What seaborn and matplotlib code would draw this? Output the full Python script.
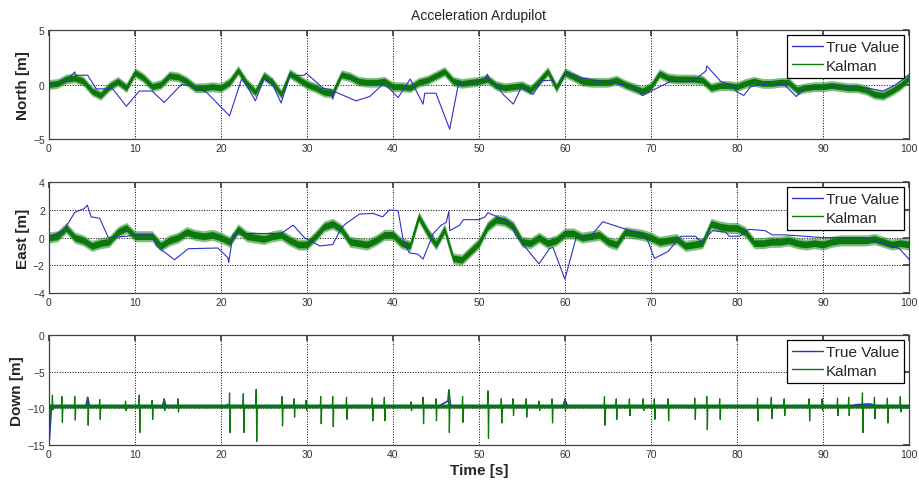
import numpy as np
import matplotlib
matplotlib.use("Agg")
import matplotlib.pyplot as plt
from matplotlib.lines import Line2D
import seaborn as sns

# ---------------- datos ----------------
# North: valor verdadero (puntos clave)
north_true_t = [0, 1, 2, 3.0, 3.1, 4.5, 5.5, 7.4, 9.0, 10.5, 12.0, 13.4, 15.4, 16.5, 18.3,
                21.0, 22.4, 23.0, 24.0, 25.0, 26.0, 27.0, 28.0, 29.7, 29.9, 31.9, 32.9, 33.0,
                33.2, 35.7, 37.3, 38.8, 39.5, 40.6, 42.0, 43.5, 43.7, 45.0, 46.6, 47.6, 49.0,
                50.5, 51.0, 51.2, 52.0, 52.8, 54.0, 54.9, 56.3, 57.3, 58.6, 59.0, 60.2, 62,
                65, 68, 69.0, 72.2, 74.9, 76.4, 76.5, 78.1, 79.5, 80.0, 80.8, 81.6, 84, 85.5,
                86.9, 88, 92, 95, 97, 98.5, 100]
north_true_v = [0, 0.1, 0.4, 1.15, 0.85, 0.85, -0.4, -0.4, -2.0, -0.6, -0.6, -1.65, 0.0, -0.1,
                -0.7, -2.87, 0.5, -0.1, -1.5, 0.5, 0.0, -1.7, 0.8, 0.85, 1.05, -0.35, -0.5,
                -1.35, -0.65, -1.5, -1.1, 0.0, -0.3, -1.2, 0.5, -1.8, -0.8, -0.8, -4.1, 0.0,
                0.2, 0.3, 0.95, 0.3, 0.0, -0.9, -1.8, -0.3, -0.9, 0.35, 0.4, -0.27, 1.15, 0.6,
                0.2, -0.2, -1.0, 0.25, 0.3, 1.25, 1.7, 0.3, -0.1, -0.7, -1.0, -0.2, 0.1, 0.0,
                -1.1, -0.3, -0.2, -0.3, -0.6, 0.0, 0.9]

# North: Kalman, un valor por segundo (0..100 s)
north_kal = [0, 0.1, 0.5, 0.6, 0.3, -0.6, -1.0, -0.2, 0.3, -0.3,
             1.1, 0.6, -0.2, 0.0, 0.8, 0.7, 0.3, -0.3, -0.3, -0.2,
             -0.3, 0.2, 1.3, 0.1, -0.7, 0.8, 0.2, -0.9, 1.0, 0.5,
             0.0, -0.3, -0.7, -0.8, 0.9, 0.7, 0.3, 0.2, 0.2, 0.3,
             -0.2, -0.2, -0.3, 0.2, 0.4, 0.8, 1.2, 0.3, 0.1, 0.2,
             0.3, 0.5, -0.1, -0.3, -0.2, -0.1, -0.5, 0.3, 1.2, -0.3,
             1.1, 0.7, 0.3, 0.2, 0.2, 0.2, 0.4, 0.0, -0.3, -0.6,
             -0.2, 1.0, 0.6, 0.5, 0.5, 0.5, 0.4, -0.3, -0.1, -0.1,
             -0.2, 0.1, 0.3, 0.1, 0.1, 0.2, 0.2, -0.5, -0.3, -0.2,
             -0.2, -0.1, -0.2, -0.3, -0.3, -0.5, -0.9, -1.0, -0.6, -0.1, 0.6]

# East: valor verdadero
east_true_t = [0, 1.8, 3.0, 4.1, 4.46, 4.9, 5.9, 6.9, 9, 10, 12.0, 12.5, 14.6, 16.2, 19.65,
               20.8, 20.9, 21.4, 22.5, 27.0, 28.4, 29.7, 31.5, 33.0, 34.0, 34.5, 36.1, 37.7,
               38.8, 39.6, 40.6, 41.2, 41.9, 42.9, 43.5, 44.7, 45.6, 46.2, 46.5, 46.6, 47.75,
               48.2, 50.0, 50.7, 51.05, 52.5, 53.5, 54.3, 56.98, 58.2, 58.6, 60.0, 61.3, 63.0,
               64.4, 67.1, 68.3, 69.5, 70.4, 71.99, 73.5, 75.2, 75.8, 77.2, 78.7, 79.1, 80.3,
               81.4, 83.3, 84.1, 85.7, 90, 95, 98.9, 100]
east_true_v = [0, 0.6, 1.83, 2.1, 2.35, 1.5, 1.4, 0.0, 0.1, 0.2, 0.2, -0.6, -1.6, -0.8, -0.75,
               -1.45, -1.8, 0.2, 0.3, 0.3, 0.9, 0.0, -0.6, -0.5, 0.7, 1.0, 1.7, 1.75, 1.5,
               2.0, 1.95, -0.2, -1.1, -1.2, -1.55, 0.3, 0.9, 1.1, 1.9, 0.5, 0.9, 1.3, 1.3,
               1.5, 1.8, 1.4, 1.2, 0.15, -1.9, -0.8, -0.7, -3.0, 0.0, 0.1, 1.15, 0.6, 0.4,
               0.0, -1.5, -1.0, 0.1, 0.1, -0.3, 0.5, 0.4, 0.1, 0.1, 0.6, 0.5, 0.2, 0.2, 0.0,
               0.0, -0.8, -1.55]

# East: Kalman, un valor por segundo
east_kal = [0, 0.1, 0.7, 0.0, -0.2, -0.6, -0.4, -0.3, 0.4, 0.7,
            0.1, 0.1, 0.1, -0.6, -0.2, 0.0, 0.4, 0.2, 0.1, 0.2,
            0.0, -0.3, 0.6, 0.1, 0.0, -0.1, 0.1, 0.2, -0.2, -0.5,
            -0.5, 0.1, 0.8, 1.0, 0.6, -0.3, -0.4, -0.5, -0.2, 0.2,
            0.2, -0.4, -0.6, 1.5, 0.4, -0.5, 0.6, -1.5, -1.6, -1.0,
            -0.4, 0.8, 1.3, 1.2, 0.8, -0.3, -0.4, 0.0, -0.4, -0.2,
            0.3, 0.3, 0.0, 0.1, 0.2, -0.3, -0.5, 0.4, 0.3, 0.2,
            0.0, -0.3, -0.2, -0.1, -0.6, -0.5, -0.4, 1.0, 0.8, 0.7,
            0.7, 0.4, -0.4, -0.4, -0.3, -0.3, -0.2, -0.4, -0.5, -0.4,
            -0.5, -0.3, -0.2, -0.2, -0.2, -0.2, -0.1, -0.3, -0.5, -0.4, -0.5]

# Down: valor verdadero (casi oculto bajo Kalman)
down_true_t = [0, 0.3, 4.3, 4.5, 4.7, 13.2, 13.4, 13.6, 20.5, 20.8, 21.1, 45.3, 46.4, 46.5,
               46.7, 59.8, 60.0, 60.3, 93.2, 94.0, 95.5, 96.2, 100]
down_true_v = [-15, -9.7, -9.7, -8.5, -9.7, -9.7, -8.8, -9.7, -9.7, -9.5, -9.7, -9.7, -9.0,
               -7.5, -9.7, -9.7, -8.8, -9.7, -9.7, -9.5, -9.4, -9.7, -9.7]

# Down: Kalman = base + picos
down_base = -9.8
down_start = -15
spike_t = [0.4, 1.5, 3.0, 4.5, 5.9, 8.9, 10.5, 12.0, 13.4, 15.0, 21.0, 22.6, 24.1, 27.1,
           28.5, 29.9, 31.6, 33.0, 34.6, 37.6, 39.0, 42.1, 43.5, 45.0, 46.5, 48.1, 51.05,
           52.6, 53.96, 55.5, 57.0, 58.5, 60.0, 64.6, 65.97, 67.5, 69.1, 70.4, 72.0, 75.1,
           76.5, 78.0, 82.4, 84.0, 85.5, 88.4, 89.9, 91.7, 93.0, 94.6, 96.0, 97.5, 99.0]
spike_hi = [-8.2, -8.4, -8.4, -8.5, -8.8, -9.0, -8.2, -8.9, -8.7, -8.7, -7.9, -8.0, -7.4, -8.4,
            -8.7, -8.9, -8.4, -8.4, -8.5, -8.6, -8.5, -9.1, -8.5, -8.7, -7.5, -8.4, -7.6,
            -8.7, -8.7, -8.7, -9.0, -8.7, -8.7, -8.4, -8.7, -8.7, -8.7, -8.7, -8.7, -8.6,
            -8.4, -8.7, -8.6, -8.5, -8.7, -8.7, -8.7, -8.6, -8.5, -7.9, -8.5, -8.6, -8.4]
spike_lo = [-10.2, -11.9, -11.6, -12.3, -11.5, -10.3, -13.3, -11.5, -10.3, -10.5, -13.3, -13.3,
            -14.5, -12.4, -11.2, -10.3, -12.1, -12.5, -11.5, -11.7, -11.7, -10.3, -12.1, -11.7,
            -13.3, -11.9, -14.1, -12.0, -11.0, -11.2, -10.3, -12.0, -10.3, -12.3, -11.5,
            -11.0, -10.3, -11.5, -11.7, -11.5, -12.9, -11.5, -11.7, -11.4, -11.0, -11.7,
            -10.3, -11.0, -11.0, -13.3, -11.4, -12.0, -10.5]

BLUE = "#3030c8"
GREEN = "#0a780a"
GREEN_LIGHT = "#2f922f"

sns.set_theme(style="white")
plt.rcParams['font.family'] = ['Liberation Sans', 'DejaVu Sans']

fig = plt.figure(figsize=(9.19, 4.89), dpi=100)
ax_n = fig.add_axes([0.0533, 0.7137, 0.9357, 0.2229])
ax_e = fig.add_axes([0.0533, 0.3988, 0.9357, 0.2264])
ax_d = fig.add_axes([0.0533, 0.0879, 0.9357, 0.2250])


def estilo(ax, ylim, yticks, ylabel):
    ax.set_xlim(0, 100)
    ax.set_ylim(*ylim)
    ax.set_xticks(range(0, 101, 10))
    ax.set_yticks(yticks)
    ax.grid(True, linestyle=':', color='black', linewidth=0.7)
    ax.tick_params(direction='in', length=4, top=True, right=True,
                   labelsize=7.5, labelcolor='#333333', color='#404040',
                   pad=3)
    for s in ax.spines.values():
        s.set_color('#404040')
        s.set_linewidth(0.9)
    ax.set_xlabel("")
    ax.set_ylabel(ylabel, fontsize=11, fontweight='bold', labelpad=2)
    handles = [Line2D([0], [0], color=BLUE, lw=1),
               Line2D([0], [0], color=GREEN, lw=1)]
    leg = ax.legend(handles, ["True Value", "Kalman"], loc='upper right',
                    fontsize=11, fancybox=False, framealpha=1,
                    edgecolor='black', borderaxespad=0.3,
                    handlelength=2.0, handletextpad=0.2, borderpad=0.35,
                    labelspacing=0.3)
    leg.get_frame().set_linewidth(0.9)


def kalman(ax, t, v, band):
    v = np.array(v)
    # banda de ruido: capa exterior clara y capa interior oscura
    ax.fill_between(t, v - band, v + band, color=GREEN_LIGHT, alpha=0.6, lw=0)
    ax.fill_between(t, v - band * 0.6, v + band * 0.6, color=GREEN, lw=0)
    sns.lineplot(x=t, y=v, ax=ax, color=GREEN, lw=0.8, estimator=None, sort=False)


t_sec = np.arange(0, 101)

# North
sns.lineplot(x=north_true_t, y=north_true_v, ax=ax_n, color=BLUE, lw=0.8,
             estimator=None, sort=False)
kalman(ax_n, t_sec, north_kal, 0.45)
estilo(ax_n, (-5, 5), [-5, 0, 5], "North [m]")
ax_n.set_title("Acceleration Ardupilot", fontsize=10, pad=8)

# East
sns.lineplot(x=east_true_t, y=east_true_v, ax=ax_e, color=BLUE, lw=0.8,
             estimator=None, sort=False)
kalman(ax_e, t_sec, east_kal, 0.4)
estilo(ax_e, (-4, 4), [-4, -2, 0, 2, 4], "East [m]")

# Down
sns.lineplot(x=down_true_t, y=down_true_v, ax=ax_d, color=BLUE, lw=1.2,
             estimator=None, sort=False)
dt = [0, 0.15]
dv = [down_start, down_base]
for t, hi, lo in zip(spike_t, spike_hi, spike_lo):
    dt += [t - 0.06, t, t + 0.06, t + 0.12]
    dv += [down_base, hi, lo, down_base]
dt.append(100)
dv.append(down_base)
ax_d.fill_between([0.15, 100], down_base - 0.35, down_base + 0.35,
                  color=GREEN_LIGHT, alpha=0.6, lw=0)
ax_d.fill_between([0.15, 100], down_base - 0.2, down_base + 0.2, color=GREEN, lw=0)
sns.lineplot(x=dt, y=dv, ax=ax_d, color=GREEN, lw=0.9, estimator=None, sort=False)
estilo(ax_d, (-15, 0), [-15, -10, -5, 0], "Down [m]")
ax_d.set_xlabel("Time [s]", fontsize=11, fontweight='bold', labelpad=3)

fig.savefig("out.png", dpi=100)
